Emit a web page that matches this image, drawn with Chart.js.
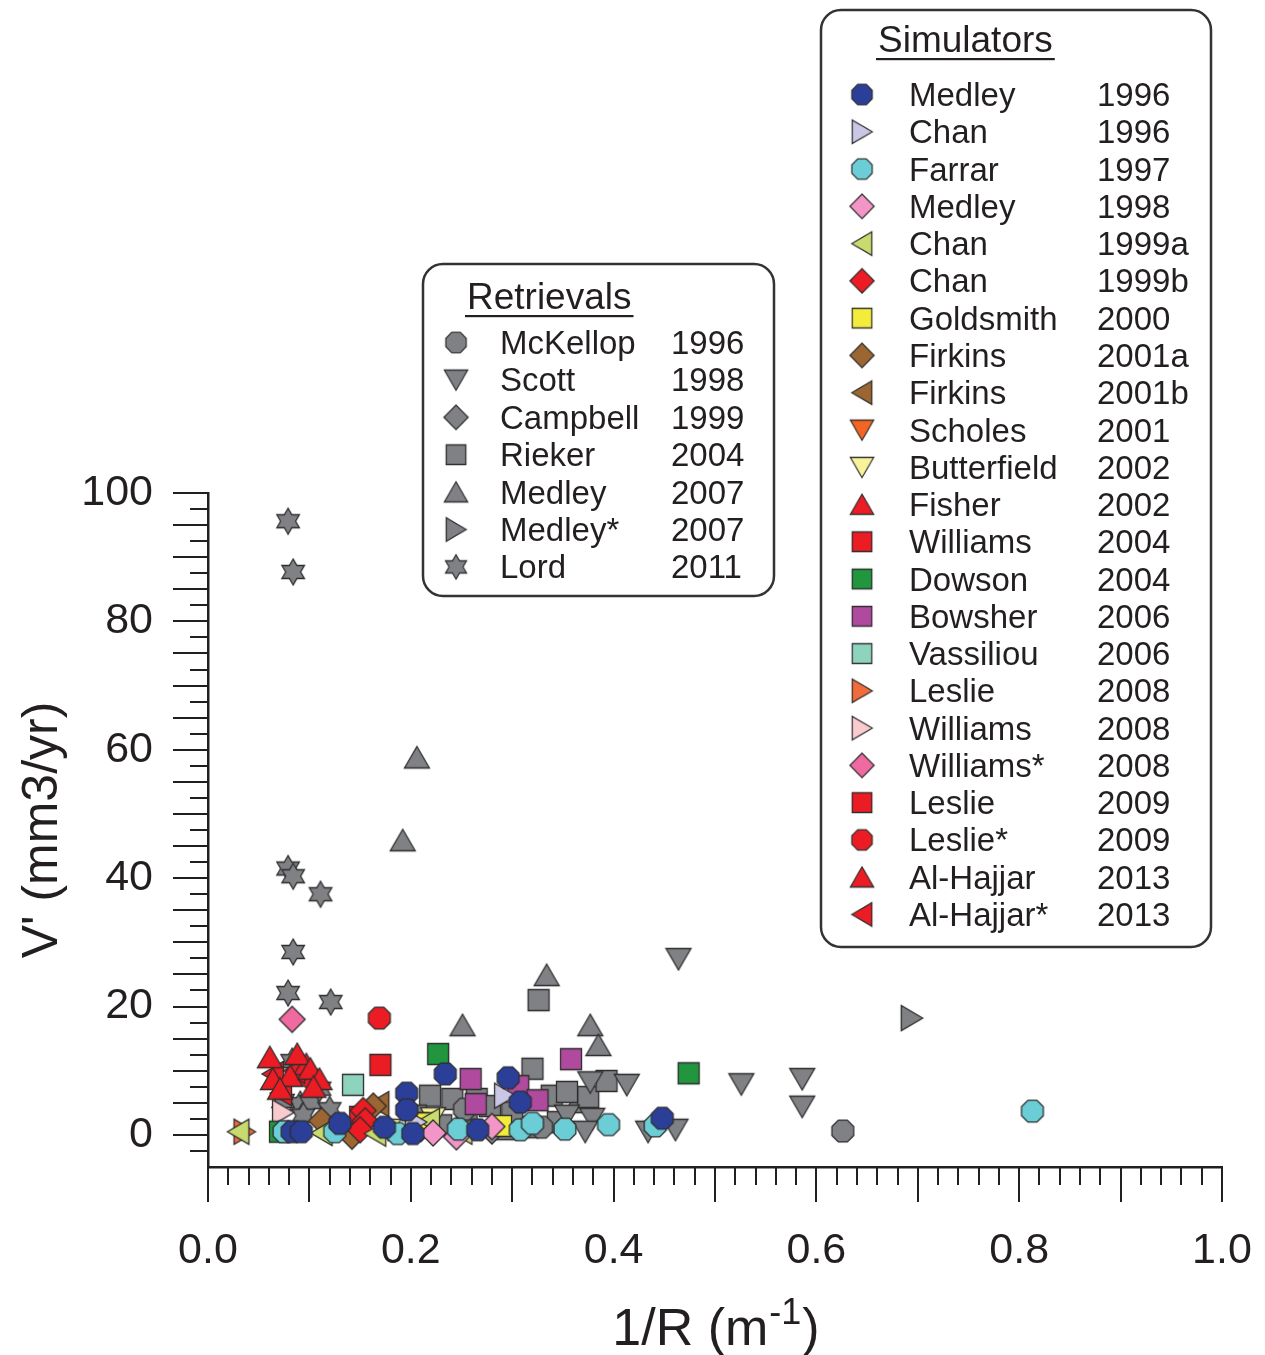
<!DOCTYPE html>
<html>
<head>
<meta charset="utf-8">
<title>Wear rate vs. 1/R</title>
<script src="https://cdn.jsdelivr.net/npm/chart.js@4.4.1/dist/chart.umd.min.js"></script>
<style>
  html, body { margin: 0; padding: 0; background: #fff; }
  #wrap { width: 1265px; height: 1355px; }
</style>
</head>
<body>
<div id="wrap"><canvas id="chart" width="1265" height="1355"></canvas></div>
<script>
// tick labels
const xTickLabels = [0, 0.2, 0.4, 0.6, 0.8, 1.0];
const yTickLabels = [0, 20, 40, 60, 80, 100];

// retrieval studies, points are [1/R, V']
const mckellop1996 = [[0.626, 0.6], [0.329, 1.2], [0.253, 4.0]];
const scott1998 = [[0.464, 27.4], [0.377, 8.2], [0.413, 7.8], [0.526, 7.9], [0.586, 8.7], [0.586, 4.4],
  [0.379, 2.5], [0.372, 0.5], [0.434, 0.5], [0.461, 0.8], [0.354, 3.0]];
const campbell1999 = [[0.280, 0.6], [0.210, 1.0]];
const rieker2004 = [[0.326, 21.0], [0.320, 10.3], [0.339, 6.1], [0.375, 5.9], [0.393, 8.4], [0.219, 6.1],
  [0.241, 5.6], [0.265, 5.6], [0.278, 4.5], [0.255, 2.0], [0.293, 0.9], [0.315, 1.2], [0.354, 6.7],
  [0.205, 3.0], [0.230, 1.5], [0.345, 2.0], [0.300, 3.5]];
const medley2007 = [[0.206, 58.8], [0.192, 45.9], [0.334, 24.9], [0.251, 17.1], [0.377, 17.1], [0.385, 14.0], [0.364, 5.1]];
const medleyStar2007 = [[0.694, 18.2]];
const lord2011 = [[0.079, 95.6], [0.084, 87.7], [0.079, 41.5], [0.084, 40.3], [0.111, 37.5], [0.084, 28.5],
  [0.079, 22.1], [0.121, 20.7], [0.083, 11.5], [0.091, 4.8], [0.101, 5.1], [0.120, 4.0], [0.110, 7.2],
  [0.094, 3.0], [0.074, 5.3]];

// simulator studies
const medley1996 = [[0.083, 0.5], [0.092, 0.5], [0.130, 1.8], [0.174, 1.2], [0.196, 6.5], [0.196, 3.9],
  [0.202, 0.2], [0.234, 9.5], [0.266, 0.8], [0.296, 8.9], [0.308, 5.1], [0.448, 2.6]];
const chan1996 = [[0.293, 6.1], [0.205, 2.0]];
const farrar1997 = [[0.813, 3.7], [0.395, 1.6], [0.352, 0.9], [0.441, 1.4], [0.308, 0.8], [0.247, 0.9],
  [0.187, 0.2], [0.125, 0.5], [0.075, 0.5], [0.320, 1.8]];
const medley1998 = [[0.222, 0.3], [0.280, 1.3], [0.245, -0.3]];
const chan1999a = [[0.030, 0.5], [0.112, 0.3], [0.165, 0.2], [0.218, 2.2], [0.250, 0.5]];
const chan1999b = [[0.153, 3.8], [0.155, 2.2], [0.150, 0.8]];
const goldsmith2000 = [[0.289, 1.4], [0.216, 1.8]];
const firkins2001a = [[0.142, -0.2], [0.112, 2.2], [0.163, 4.5]];
const firkins2001b = [[0.168, 4.8]];
const scholes2001 = [[0.205, 1.8]];
const butterfield2002 = [[0.222, 2.6], [0.178, 0.8]];
const fisher2002 = [[0.061, 12.1], [0.088, 12.6], [0.064, 8.7], [0.081, 9.2], [0.101, 10.3], [0.110, 8.7],
  [0.071, 7.2], [0.104, 7.5]];
const williams2004 = [[0.170, 10.9]];
const dowson2004 = [[0.227, 12.6], [0.474, 9.6], [0.071, 0.5]];
const bowsher2006 = [[0.358, 11.8], [0.259, 8.7], [0.264, 4.8], [0.306, 7.6], [0.325, 5.4]];
const vassiliou2006 = [[0.143, 7.8]];
const leslie2008 = [[0.036, 0.5]];
const williams2008 = [[0.074, 3.5]];
const williamsStar2008 = [[0.083, 18.0]];
const leslie2009 = [[0.150, 2.8]];
const leslieStar2009 = [[0.169, 18.2]];
const alHajjar2013 = [[0.155, 3.0], [0.097, 11.0]];
const alHajjarStar2013 = [[0.064, 9.5], [0.098, 8.3], [0.072, 6.5], [0.085, 10.0]];

const GREY = '#808184';
const RED = '#ec1c24';

const retrievals = [
  { name: 'McKellop', year: '1996', data: mckellop1996, shape: 'octagon', fill: GREY },
  { name: 'Scott', year: '1998', data: scott1998, shape: 'down', fill: GREY },
  { name: 'Campbell', year: '1999', data: campbell1999, shape: 'diamond', fill: GREY },
  { name: 'Rieker', year: '2004', data: rieker2004, shape: 'square', fill: GREY },
  { name: 'Medley', year: '2007', data: medley2007, shape: 'up', fill: GREY },
  { name: 'Medley*', year: '2007', data: medleyStar2007, shape: 'right', fill: GREY },
  { name: 'Lord', year: '2011', data: lord2011, shape: 'hexagram', fill: GREY }
];

const simulators = [
  { name: 'Medley', year: '1996', data: medley1996, shape: 'octagon', fill: '#2b3f98' },
  { name: 'Chan', year: '1996', data: chan1996, shape: 'right', fill: '#c9c6e6' },
  { name: 'Farrar', year: '1997', data: farrar1997, shape: 'octagon', fill: '#6bcdd5' },
  { name: 'Medley', year: '1998', data: medley1998, shape: 'diamond', fill: '#f395c6' },
  { name: 'Chan', year: '1999a', data: chan1999a, shape: 'left', fill: '#c8dc6e' },
  { name: 'Chan', year: '1999b', data: chan1999b, shape: 'diamond', fill: RED },
  { name: 'Goldsmith', year: '2000', data: goldsmith2000, shape: 'square', fill: '#f4ec3c' },
  { name: 'Firkins', year: '2001a', data: firkins2001a, shape: 'diamond', fill: '#9b6631' },
  { name: 'Firkins', year: '2001b', data: firkins2001b, shape: 'left', fill: '#9b6631' },
  { name: 'Scholes', year: '2001', data: scholes2001, shape: 'down', fill: '#f26522' },
  { name: 'Butterfield', year: '2002', data: butterfield2002, shape: 'down', fill: '#f7f39a' },
  { name: 'Fisher', year: '2002', data: fisher2002, shape: 'up', fill: RED },
  { name: 'Williams', year: '2004', data: williams2004, shape: 'square', fill: RED },
  { name: 'Dowson', year: '2004', data: dowson2004, shape: 'square', fill: '#21963f' },
  { name: 'Bowsher', year: '2006', data: bowsher2006, shape: 'square', fill: '#b04a9f' },
  { name: 'Vassiliou', year: '2006', data: vassiliou2006, shape: 'square', fill: '#8ed3bd' },
  { name: 'Leslie', year: '2008', data: leslie2008, shape: 'right', fill: '#f26b3a' },
  { name: 'Williams', year: '2008', data: williams2008, shape: 'right', fill: '#f9cbcf' },
  { name: 'Williams*', year: '2008', data: williamsStar2008, shape: 'diamond', fill: '#ee6aa0' },
  { name: 'Leslie', year: '2009', data: leslie2009, shape: 'square', fill: RED },
  { name: 'Leslie*', year: '2009', data: leslieStar2009, shape: 'octagon', fill: RED },
  { name: 'Al-Hajjar', year: '2013', data: alHajjar2013, shape: 'up', fill: RED },
  { name: 'Al-Hajjar*', year: '2013', data: alHajjarStar2013, shape: 'left', fill: RED }
];

const FONT = "'Liberation Sans', Arial, Helvetica, sans-serif";
const INK = '#231f20';

// outline of each marker shape, centred on 0,0
function shapePath(shape) {
  const pts = [];
  if (shape === 'octagon') {
    for (let k = 0; k < 8; k++) {
      const a = (22.5 + 45 * k) * Math.PI / 180;
      pts.push([11.8 * Math.cos(a), 11.8 * Math.sin(a)]);
    }
  } else if (shape === 'square') {
    pts.push([-10.5, -10.5], [10.5, -10.5], [10.5, 10.5], [-10.5, 10.5]);
  } else if (shape === 'diamond') {
    pts.push([0, -13], [13, 0], [0, 13], [-13, 0]);
  } else if (shape === 'up') {
    pts.push([0, -11], [12.5, 10.5], [-12.5, 10.5]);
  } else if (shape === 'down') {
    pts.push([0, 11], [12.5, -10.5], [-12.5, -10.5]);
  } else if (shape === 'right') {
    pts.push([11, 0], [-10.5, -12.5], [-10.5, 12.5]);
  } else if (shape === 'left') {
    pts.push([-11, 0], [10.5, -12.5], [10.5, 12.5]);
  } else if (shape === 'hexagram') {
    for (let k = 0; k < 12; k++) {
      const a = (-90 + 30 * k) * Math.PI / 180;
      const r = k % 2 === 0 ? 13 : 13 / Math.sqrt(3);
      pts.push([r * Math.cos(a), r * Math.sin(a)]);
    }
  }
  return pts;
}

function makeMarker(shape, fill) {
  const c = document.createElement('canvas');
  c.width = 32;
  c.height = 32;
  const g = c.getContext('2d');
  g.translate(16, 16);
  g.beginPath();
  shapePath(shape).forEach(([px, py], i) => (i ? g.lineTo(px, py) : g.moveTo(px, py)));
  g.closePath();
  g.fillStyle = fill;
  g.fill();
  g.lineJoin = 'miter';
  g.lineWidth = 1.3;
  g.strokeStyle = '#2e2e2e';
  g.stroke();
  return c;
}

retrievals.concat(simulators).forEach(s => { s.img = makeMarker(s.shape, s.fill); });

function toDataset(s, order) {
  return {
    label: s.name + ' ' + s.year,
    data: s.data.map(([x, y]) => ({ x, y })),
    pointStyle: s.img,
    pointRadius: 11,
    pointHoverRadius: 11,
    showLine: false,
    order: order
  };
}

// outward tick marks: long every major step, short in between
const tickMarks = {
  id: 'tickMarks',
  afterDraw(chart) {
    const { ctx, scales: { x, y }, chartArea } = chart;
    ctx.save();
    ctx.strokeStyle = INK;
    ctx.lineWidth = 2;
    ctx.beginPath();
    for (let k = -1; k <= 40; k++) {
      const py = Math.round(y.getPixelForValue(k * 2.5));
      const len = k % 2 === 0 ? 35 : 18;
      ctx.moveTo(chartArea.left, py);
      ctx.lineTo(chartArea.left - len, py);
    }
    for (let k = 0; k <= 50; k++) {
      const px = Math.round(x.getPixelForValue(k * 0.02));
      const len = k % 5 === 0 ? 35 : 18;
      ctx.moveTo(px, chartArea.bottom);
      ctx.lineTo(px, chartArea.bottom + len);
    }
    ctx.stroke();
    ctx.restore();
  }
};

// axis titles, the x one carries a superscript
const axisTitles = {
  id: 'axisTitles',
  afterDraw(chart) {
    const { ctx, chartArea } = chart;
    ctx.save();
    ctx.fillStyle = INK;
    ctx.textBaseline = 'alphabetic';

    ctx.font = '52px ' + FONT;
    const main = '1/R (m';
    const sup = '-1';
    const close = ')';
    const wMain = ctx.measureText(main).width;
    const wClose = ctx.measureText(close).width;
    ctx.font = '36px ' + FONT;
    const wSup = ctx.measureText(sup).width;
    let tx = (chartArea.left + chartArea.right) / 2 - (wMain + wSup + wClose) / 2;
    const base = 1345;
    ctx.font = '52px ' + FONT;
    ctx.fillText(main, tx, base);
    tx += wMain;
    ctx.font = '36px ' + FONT;
    ctx.fillText(sup, tx + 1, base - 21);
    tx += wSup + 2;
    ctx.font = '52px ' + FONT;
    ctx.fillText(close, tx, base);

    ctx.translate(57, (chartArea.top + chartArea.bottom) / 2);
    ctx.rotate(-Math.PI / 2);
    ctx.textAlign = 'center';
    ctx.font = '50px ' + FONT;
    ctx.fillText("V' (mm3/yr)", 0, 0);
    ctx.restore();
  }
};

function roundBox(ctx, x, y, w, h, r) {
  ctx.beginPath();
  ctx.moveTo(x + r, y);
  ctx.arcTo(x + w, y, x + w, y + h, r);
  ctx.arcTo(x + w, y + h, x, y + h, r);
  ctx.arcTo(x, y + h, x, y, r);
  ctx.arcTo(x, y, x + w, y, r);
  ctx.closePath();
}

function drawLegend(ctx, box, entries) {
  ctx.save();
  roundBox(ctx, box.x, box.y, box.w, box.h, 20);
  ctx.fillStyle = '#fff';
  ctx.fill();
  ctx.lineWidth = 2.5;
  ctx.strokeStyle = '#333';
  ctx.stroke();

  ctx.fillStyle = INK;
  ctx.textBaseline = 'middle';
  ctx.textAlign = 'left';
  ctx.font = '37px ' + FONT;
  ctx.fillText(box.title, box.titleX, box.titleY + 2);
  const tw = ctx.measureText(box.title).width;
  ctx.fillRect(box.titleX - 2, box.titleY + 18, tw + 4, 2.2);

  ctx.font = '33px ' + FONT;
  entries.forEach((s, i) => {
    const ry = box.rowY + i * box.rowStep;
    ctx.drawImage(s.img, box.markX - 15, ry - 15, 30, 30);
    ctx.fillText(s.name, box.nameX, ry + 2.5);
    ctx.fillText(s.year, box.yearX, ry + 2.5);
  });
  ctx.restore();
}

const boxLegends = {
  id: 'boxLegends',
  afterDraw(chart) {
    const ctx = chart.ctx;
    drawLegend(ctx, { x: 423, y: 264, w: 351, h: 332, title: 'Retrievals', titleX: 467, titleY: 297,
      rowY: 342.5, rowStep: 37.4, markX: 456, nameX: 500, yearX: 671 }, retrievals);
    drawLegend(ctx, { x: 821, y: 10, w: 390, h: 937, title: 'Simulators', titleX: 878, titleY: 40,
      rowY: 94.5, rowStep: 37.27, markX: 862, nameX: 909, yearX: 1097 }, simulators);
  }
};

Chart.defaults.font.family = FONT;
Chart.defaults.color = INK;

const datasets = retrievals.map(s => toDataset(s, 2)).concat(simulators.map(s => toDataset(s, 1)));

new Chart(document.getElementById('chart'), {
  type: 'scatter',
  data: { datasets },
  options: {
    responsive: false,
    animation: false,
    events: [],
    layout: { padding: { top: 493, right: 43, left: 0, bottom: 0 } },
    plugins: { legend: { display: false }, tooltip: { enabled: false } },
    scales: {
      x: {
        type: 'linear',
        min: 0,
        max: 1,
        grid: { display: false, drawTicks: false },
        border: { display: true, color: INK, width: 2.5 },
        afterBuildTicks: s => { s.ticks = xTickLabels.map(v => ({ value: v })); },
        afterFit: s => { s.height = 188; s.paddingLeft = 0; s.paddingRight = 0; },
        ticks: {
          padding: 58,
          maxRotation: 0,
          font: { size: 43 },
          color: INK,
          callback: v => Number(v).toFixed(1)
        }
      },
      y: {
        type: 'linear',
        min: -5,
        max: 100,
        grid: { display: false, drawTicks: false },
        border: { display: true, color: INK, width: 2.5 },
        afterBuildTicks: s => { s.ticks = yTickLabels.map(v => ({ value: v })); },
        afterFit: s => { s.width = 208; s.paddingTop = 0; s.paddingBottom = 0; },
        ticks: {
          padding: 55,
          font: { size: 43 },
          color: INK,
          callback: v => String(v)
        }
      }
    }
  },
  plugins: [tickMarks, axisTitles, boxLegends]
});
</script>
</body>
</html>
